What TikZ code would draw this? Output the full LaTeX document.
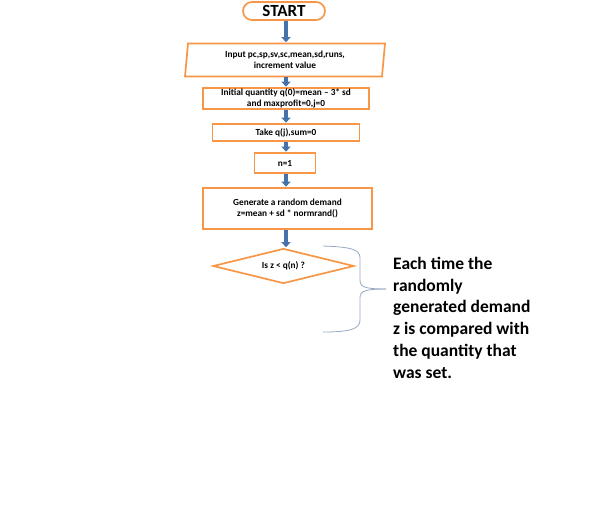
\documentclass[tikz,border=0pt]{standalone}
\usepackage{fontspec}
\setmainfont{Carlito}
\usetikzlibrary{arrows.meta,shapes.geometric,shapes.misc}
\definecolor{boxorange}{RGB}{247,150,70}
\definecolor{arrowblue}{RGB}{70,114,172}
\definecolor{bracegray}{RGB}{150,170,195}
\tikzset{
  flowbox/.style={draw=boxorange,line width=1.7pt,fill=white,inner sep=0pt,font=\bfseries\fontsize{9.3}{10.5}\selectfont,align=center},
  flowarrow/.style={draw=arrowblue,line width=3.6pt,-{Triangle[length=5pt,width=9pt]},shorten >=0.5pt},
}
\begin{document}
\begin{tikzpicture}[x=1pt,y=-1pt]
\useasboundingbox (0,0) rectangle (613,504);
\node[flowbox,rounded rectangle,minimum width=82pt,minimum height=18pt,font=\bfseries\fontsize{17}{18}\selectfont] (start) at (284,11) {START};
\node[flowbox,trapezium,trapezium left angle=80,trapezium right angle=100,minimum width=200pt,minimum height=33pt,trapezium stretches body] (input) at (285,60) {Input pc,sp,sv,sc,mean,sd,runs,\\increment value};
\node[flowbox,rectangle,minimum width=166pt,minimum height=21pt] (init) at (286,98.5) {Initial quantity q(0)=mean -- 3* sd\\and maxprofit=0,j=0};
\node[flowbox,rectangle,minimum width=147pt,minimum height=17pt] (take) at (286,132.5) {Take q(j),sum=0};
\node[flowbox,rectangle,minimum width=61pt,minimum height=20pt] (n1) at (285,163) {n=1};
\node[flowbox,rectangle,minimum width=169pt,minimum height=41pt] (gen) at (287.5,208.5) {Generate a random demand\\z=mean + sd * normrand()};
\node[flowbox,diamond,aspect=4,minimum width=141pt,minimum height=35pt] (dec) at (283.5,266) {Is z < q(n) ?};
\draw[flowarrow] (start.south -| 286,0) -- (input.north -| 286,0);
\draw[flowarrow] (input.south -| 286,0) -- (init.north -| 286,0);
\draw[flowarrow] (init.south -| 286,0) -- (take.north -| 286,0);
\draw[flowarrow] (take.south -| 286,0) -- (n1.north -| 286,0);
\draw[flowarrow] (n1.south -| 286,0) -- (gen.north -| 286,0);
\draw[flowarrow] (gen.south -| 286,0) -- (dec.north -| 286,0);
\coordinate (btop) at (323,246);
\coordinate (bbot) at (323,332);
\coordinate (btip) at (386,289);
\draw[bracegray,line width=0.8pt] (btop) .. controls (350,247) and (360,249) .. (360,258)
  -- (360,280) .. controls (360,287) and (365,289) .. (btip);
\draw[bracegray,line width=0.8pt] (btip) .. controls (365,289) and (360,291) .. (360,298)
  -- (360,320) .. controls (360,329) and (350,332) .. (bbot);
\node[anchor=north west,align=left,inner sep=0pt,font=\bfseries\fontsize{17.5}{21.7}\selectfont] (note) at (393,257) {Each time the\\randomly\\generated demand\\z is compared with\\the quantity that\\was set.};
\end{tikzpicture}
\end{document}
